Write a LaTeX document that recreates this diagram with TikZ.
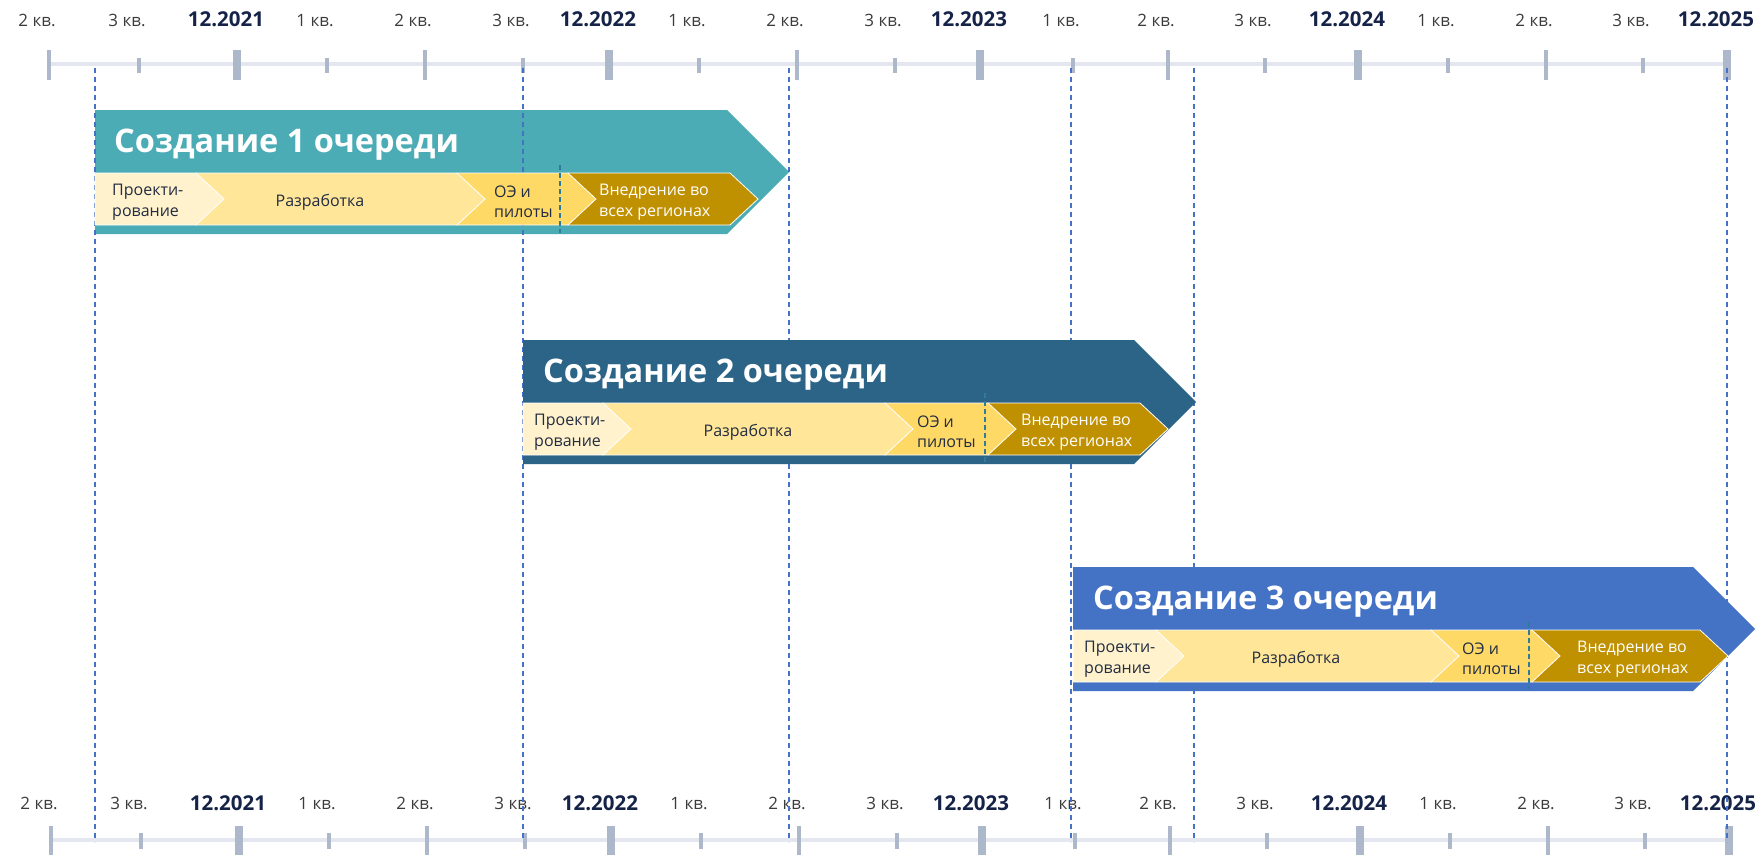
\documentclass[tikz,border=0pt]{standalone}
\usepackage{fontspec}
\setmainfont{Open Sans}
\usepackage{tikz}
\usetikzlibrary{positioning}

\definecolor{barTeal}{RGB}{75,172,182}
\definecolor{barNavy}{RGB}{44,100,136}
\definecolor{barBlue}{RGB}{68,114,196}
\definecolor{phCream}{RGB}{255,242,204}
\definecolor{phLight}{RGB}{255,230,153}
\definecolor{phMid}{RGB}{255,217,102}
\definecolor{phGold}{RGB}{191,144,0}
\definecolor{phText}{RGB}{34,44,66}
\definecolor{axLine}{RGB}{228,231,239}
\definecolor{axTick}{RGB}{173,184,203}
\definecolor{yearText}{RGB}{22,35,72}
\definecolor{quartText}{RGB}{60,60,60}
\definecolor{guideBlue}{RGB}{68,114,196}
\definecolor{gateTeal}{RGB}{47,124,154}

\tikzset{
  axline/.style={axLine, line width=4pt},
  axtick/.style={axTick, line width=4pt},
  quartlabel/.style={quartText, font=\fontsize{17}{20}\selectfont, anchor=base, inner sep=0pt},
  yearlabel/.style={yearText, font=\bfseries\fontsize{20.5}{24}\selectfont, anchor=base, inner sep=0pt},
  guideline/.style={guideBlue, line width=1.2pt, dash pattern=on 5pt off 4pt},
  gatemark/.style={gateTeal, line width=1.6pt, dash pattern=on 5pt off 3pt},
  bartitle/.style={white, font=\bfseries\fontsize{32.5}{38}\selectfont, anchor=west, inner sep=0pt},
  phase/.style={phText, font=\fontsize{16}{20.5}\selectfont, align=left, anchor=west, inner sep=0pt},
}

% stage body: x left, y top, x of corner, colour
\newcommand{\stagebar}[4]{%
  \pgfmathsetmacro\yb{#2+124}\pgfmathsetmacro\ym{#2+62}\pgfmathsetmacro\xt{#3+62}%
  \fill[#4] (#1,#2) -- (#3,#2) -- (\xt,\ym) -- (#3,\yb) -- (#1,\yb) -- cycle;}
% phase chevron: x left, x right, y top, colour
\newcommand{\chev}[4]{%
  \pgfmathsetmacro\yb{#3+52}\pgfmathsetmacro\ym{#3+26}\pgfmathsetmacro\xt{#2+28}%
  \filldraw[fill=#4, draw=white, line width=0.8pt] (#1,#3) -- (#2,#3) -- (\xt,\ym) -- (#2,\yb) -- (#1,\yb) -- cycle;}

\begin{document}
\begin{tikzpicture}[x=1pt, y=-1pt]
  \useasboundingbox[fill=white] (0,0) rectangle (1760,854);

  % time axes, top and bottom
  \draw[axline] (49,64) -- (1727,64);
  \draw[axline] (51,840) -- (1729,840);
  \foreach \xa/\lab [count=\k from 0] in {49/2 кв.,139/3 кв.,237/12.2021,327/1 кв.,425/2 кв.,523/3 кв.,609/12.2022,
      699/1 кв.,797/2 кв.,895/3 кв.,980/12.2023,1073/1 кв.,1168/2 кв.,1265/3 кв.,1358/12.2024,
      1448/1 кв.,1546/2 кв.,1643/3 кв.,1727/12.2025}{
    \pgfmathtruncatemacro\r{mod(\k+3,4)}
    \pgfmathsetmacro\xb{\xa+2}
    \ifnum\r=1
      \draw[axtick, line width=8pt] (\xa,50) -- (\xa,80);
      \draw[axtick, line width=8pt] (\xb,826) -- (\xb,860);
      \node[yearlabel] (top\k) at (\xa-11,26) {\lab};
      \node[yearlabel] (bot\k) at (\xb-11,810) {\lab};
    \else\ifnum\r=3
      \draw[axtick] (\xa,50) -- (\xa,80);
      \draw[axtick] (\xb,826) -- (\xb,860);
      \node[quartlabel] (top\k) at (\xa-12,26) {\lab};
      \node[quartlabel] (bot\k) at (\xb-12,809) {\lab};
    \else
      \draw[axtick] (\xa,58) -- (\xa,73);
      \draw[axtick] (\xb,833) -- (\xb,849);
      \node[quartlabel] (top\k) at (\xa-12,26) {\lab};
      \node[quartlabel] (bot\k) at (\xb-12,809) {\lab};
    \fi\fi
  }

  % stage 1
  \stagebar{95}{110}{727}{barTeal}

  % guide lines
  \foreach \gx in {95,523,789,1071,1194,1727}
    \draw[guideline] (\gx,68) -- (\gx,842);

  \chev{568}{730}{173}{phGold}
  \chev{457}{568}{173}{phMid}
  \chev{196}{457}{173}{phLight}
  \chev{95}{196}{173}{phCream}
  \draw[gatemark] (560,165) -- (560,233);
  \node[bartitle] (title1) at (114,145) {Создание 1 очереди};
  \node[phase] (design1) at (112,202) {Проекти-\\рование};
  \node[phase, anchor=center] (dev1) at (320,202) {Разработка};
  \node[phase] (pilot1) at (494,202) {ОЭ и\\пилоты};
  \node[phase, white] (rollout1) at (599,202) {Внедрение во\\всех регионах};

  % stage 2
  \stagebar{523}{340}{1134}{barNavy}
  \chev{988}{1140}{403}{phGold}
  \chev{885}{988}{403}{phMid}
  \chev{603}{885}{403}{phLight}
  \chev{523}{603}{403}{phCream}
  \draw[gatemark] (985,393) -- (985,462);
  \node[bartitle] (title2) at (543,375) {Создание 2 очереди};
  \node[phase] (design2) at (534,432) {Проекти-\\рование};
  \node[phase, anchor=center] (dev2) at (748,432) {Разработка};
  \node[phase] (pilot2) at (917,432) {ОЭ и\\пилоты};
  \node[phase, white] (rollout2) at (1021,432) {Внедрение во\\всех регионах};

  % stage 3
  \stagebar{1073}{567}{1693}{barBlue}
  \chev{1532}{1700}{630}{phGold}
  \chev{1431}{1532}{630}{phMid}
  \chev{1156}{1431}{630}{phLight}
  \chev{1073}{1156}{630}{phCream}
  \draw[gatemark] (1529,622) -- (1529,689);
  \node[bartitle] (title3) at (1093,602) {Создание 3 очереди};
  \node[phase] (design3) at (1084,659) {Проекти-\\рование};
  \node[phase, anchor=center] (dev3) at (1296,659) {Разработка};
  \node[phase] (pilot3) at (1462,659) {ОЭ и\\пилоты};
  \node[phase, white] (rollout3) at (1577,659) {Внедрение во\\всех регионах};
\end{tikzpicture}
\end{document}
